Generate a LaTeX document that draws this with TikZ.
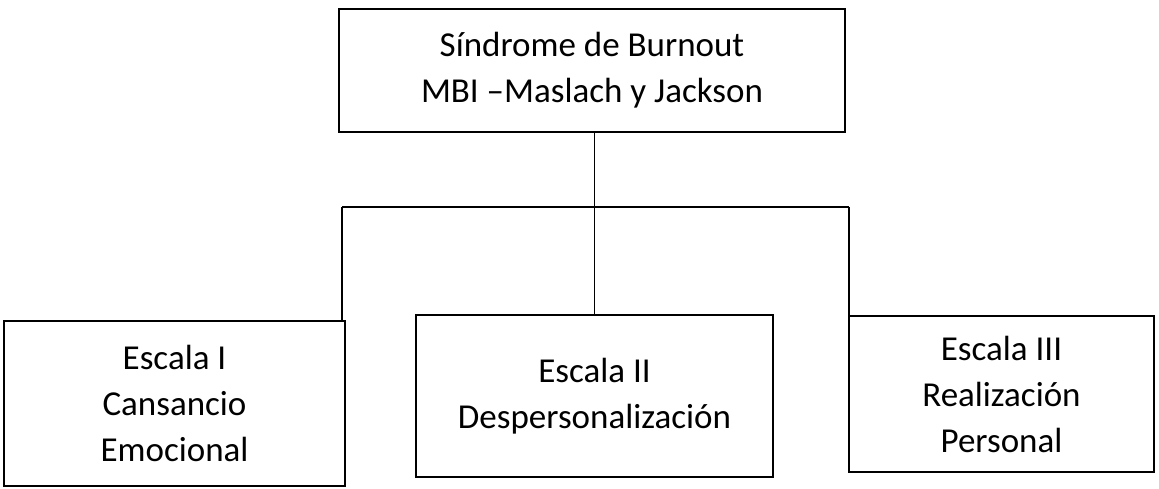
\documentclass[tikz,border=0pt]{standalone}
\usepackage{fontspec}
\setmainfont{Carlito}
\usepackage{tikz}
\usetikzlibrary{positioning,calc}

\begin{document}
\begin{tikzpicture}[
    x=1pt, y=-1pt,
    box/.style={draw, line width=2.4pt, inner sep=0pt, align=center, font=\fontsize{35}{46}\selectfont},
    link/.style={line width=1.2pt}
]
\useasboundingbox (0,0) rectangle (1159,489);
\node[box, minimum width=506pt, minimum height=123pt] (burnout) at (592,70.5) {Síndrome de Burnout\\MBI --Maslach y Jackson};
\node[box, minimum width=341pt, minimum height=165pt] (esc1) at (174.5,403.5) {Escala I\\Cansancio\\Emocional};
\node[box, minimum width=357pt, minimum height=162pt] (esc2) at (594.5,396) {Escala II\\Despersonalización};
\node[box, minimum width=305pt, minimum height=156pt] (esc3) at (1001.5,394) {Escala III\\Realización\\Personal};
\coordinate (busL) at (342,207);
\coordinate (busR) at (849,207);
\draw[link] (burnout.south -| esc2.north) -- (esc2.north);
\draw[link] (busL) -- (busR);
\draw[link] (busL) -- (busL |- esc1.north);
\draw[link] (busR) -- (busR |- esc3.north);
\end{tikzpicture}
\end{document}
